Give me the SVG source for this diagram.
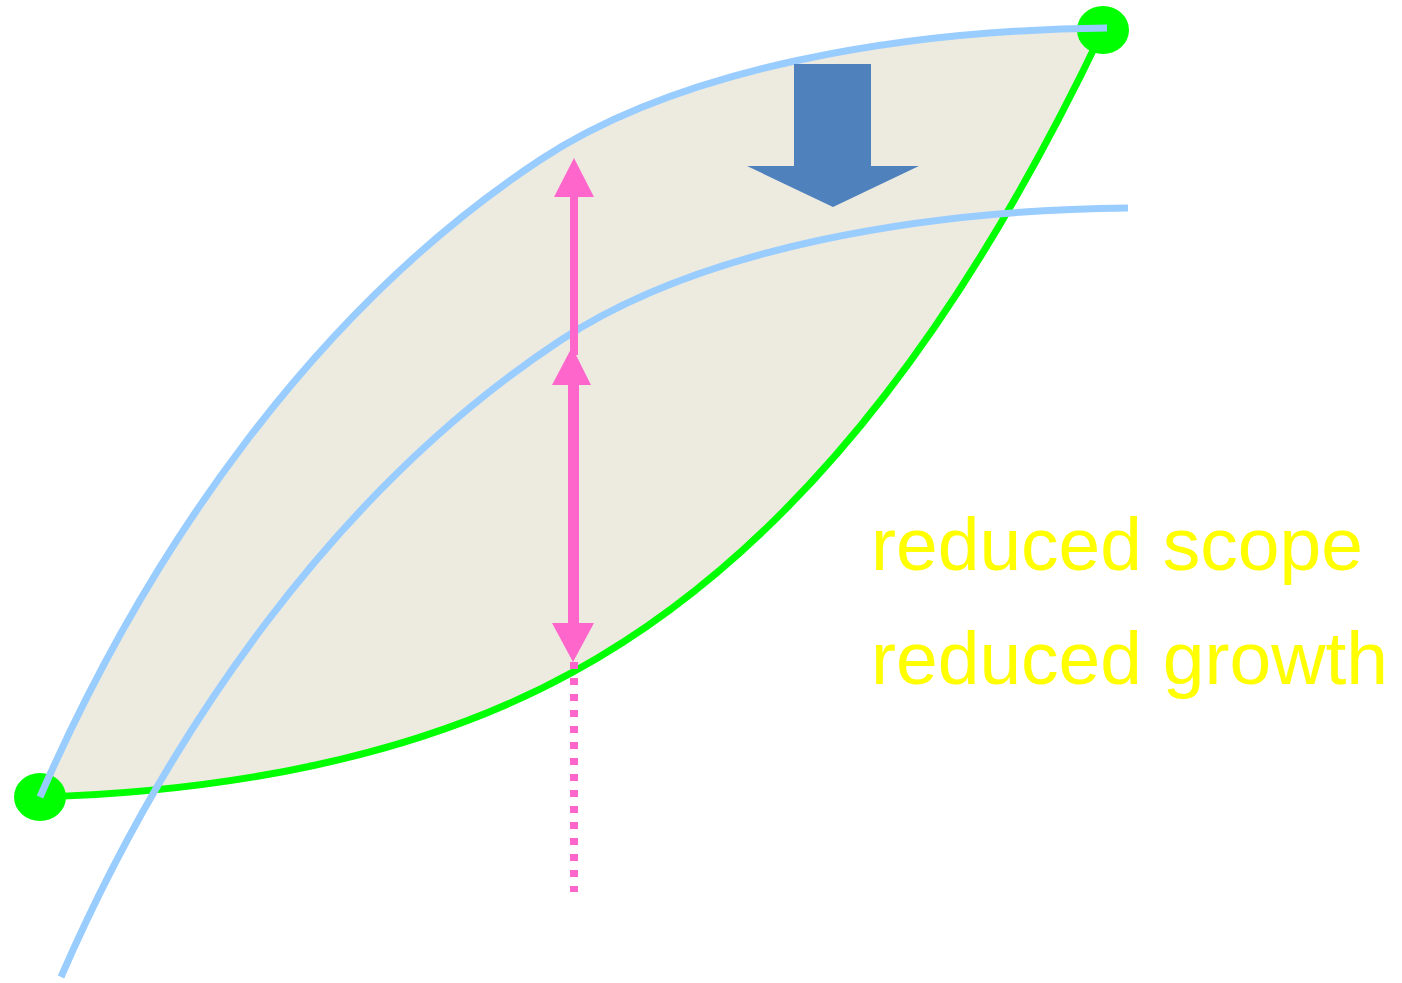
<svg xmlns="http://www.w3.org/2000/svg" width="1402" height="983" viewBox="0 0 1402 983">
<style>
.blue{fill:none;stroke:#99CCFF;stroke-width:7}
.green{fill:none;stroke:#00FF00;stroke-width:7}
.dot{fill:#00FF00}
.pink{fill:#FF66CC}
.lbl{font-family:"Liberation Sans",Arial,sans-serif;font-size:75px;fill:#FFFF00}
</style>
<defs>
<path id="curve" d="M40,797 C148,549 316,308 540,160 C680,68 900,30 1107,28"/>
</defs>
<rect width="1402" height="983" fill="#FFFFFF"/>
<g id="region">
<path d="M40,797 C148,549 316,308 540,160 C680,68 900,30 1107,28 L1103,30 C983,282 818,538 573,672 C415,759 220,792 40,797 Z" fill="#EDEBE0"/>
</g>
<g id="connectors">
<path id="green-curve" class="green" d="M40,797 C220,792 415,759 573,672 C818,538 983,282 1103,30"/>
<ellipse id="dot-left" class="dot" cx="40" cy="797" rx="26" ry="24"/>
<ellipse id="dot-right" class="dot" cx="1103" cy="30" rx="26" ry="24"/>
<use id="blue-upper" href="#curve" class="blue"/>
<use id="blue-lower" href="#curve" class="blue" transform="translate(21,180)"/>
<line x1="574" y1="662" x2="574" y2="892" stroke="#FF66CC" stroke-width="8" stroke-dasharray="7 9"/>
<rect x="570" y="190" width="8" height="165" class="pink"/>
<polygon class="pink" points="574,158 594,197 554,197"/>
<rect x="568" y="380" width="11" height="248" class="pink"/>
<polygon class="pink" points="572,347 591,385 552,385"/>
<polygon class="pink" points="573,662 594,623 552,623"/>
</g>
<g id="big-arrow">
<polygon fill="#4F81BD" points="794,64 871,64 871,166 919,166 833,207 747,166 794,166"/>
</g>
<g id="labels">
<text class="lbl" x="871" y="570">reduced scope</text>
<text class="lbl" x="871" y="684">reduced growth</text>
</g>
</svg>
